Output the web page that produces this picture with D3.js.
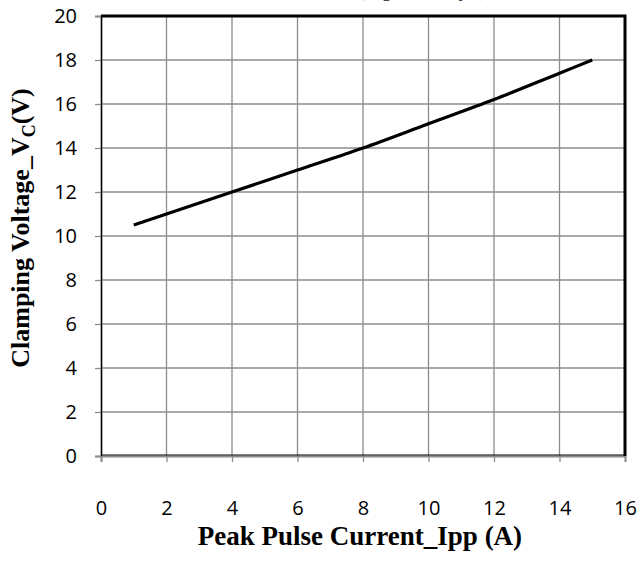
<!DOCTYPE html>
<html><head><meta charset="utf-8">
<script src="https://cdn.jsdelivr.net/npm/d3@7"></script>
<style>body{margin:0;background:#fff}svg{display:block}</style>
</head><body>
<svg id="c" width="639" height="561"></svg>
<script>
const currents = [1, 2, 4, 6, 8, 10, 12, 14, 15];
const voltages = [10.5, 11.0, 12.0, 13.0, 14.0, 15.1, 16.2, 17.4, 18.0];
const xTicks = [0, 2, 4, 6, 8, 10, 12, 14, 16];
const yTicks = [0, 2, 4, 6, 8, 10, 12, 14, 16, 18, 20];
const xTitle = "Peak Pulse Current_Ipp (A)";

const svg = d3.select("#c");
const L = 101, R = 625, T = 16, B = 456;
const x = d3.scaleLinear().domain([0, 16]).range([L, R]);
const y = d3.scaleLinear().domain([0, 20]).range([B, T]);

// grid
svg.append("g").selectAll("line").data(xTicks.slice(1, -1)).join("line")
  .attr("x1", d => x(d)).attr("x2", d => x(d)).attr("y1", T).attr("y2", B)
  .attr("stroke", "#8c8c8c").attr("stroke-width", 1.3);
svg.append("g").selectAll("line").data(yTicks.slice(1, -1)).join("line")
  .attr("x1", L).attr("x2", R).attr("y1", d => y(d)).attr("y2", d => y(d))
  .attr("stroke", "#8c8c8c").attr("stroke-width", 1.3);

// axes
const xAxis = svg.append("g").attr("transform", `translate(0,${B})`)
  .call(d3.axisBottom(x).tickValues(xTicks).tickSize(6).tickPadding(39).tickFormat(d3.format("d")));
const yAxis = svg.append("g").attr("transform", `translate(${L},0)`)
  .call(d3.axisLeft(y).tickValues(yTicks).tickSize(6).tickPadding(18).tickFormat(d3.format("d")));
[xAxis, yAxis].forEach(g => {
  g.select(".domain").attr("stroke", "#8c8c8c").attr("stroke-width", 2);
  g.selectAll(".tick line").attr("stroke", "#8c8c8c").attr("stroke-width", 1.3);
  g.selectAll(".tick text").attr("fill", "#000").style("font-family", "'Open Sans', sans-serif").style("font-size", "20px");
});

// frame
svg.append("path").attr("d", `M${L},${T}H${R}V${B}`).attr("fill", "none")
  .attr("stroke", "#000").attr("stroke-width", 3);
svg.append("line").attr("x1", L + 0.5).attr("x2", L + 0.5).attr("y1", T).attr("y2", B)
  .attr("stroke", "#000").attr("stroke-width", 1.2);
svg.append("line").attr("x1", L).attr("x2", R).attr("y1", B - 1).attr("y2", B - 1)
  .attr("stroke", "#000").attr("stroke-width", 1.2);

// line
svg.append("path").datum(currents.map((c, i) => [c, voltages[i]]))
  .attr("fill", "none").attr("stroke", "#000").attr("stroke-width", 3.2)
  .attr("d", d3.line().x(d => x(d[0])).y(d => y(d[1])).curve(d3.curveMonotoneX));

// titles
svg.append("text").attr("x", 360).attr("y", 545).attr("text-anchor", "middle")
  .style("font-family", "'Liberation Serif', serif").style("font-weight", "bold").style("font-size", "27px")
  .text(xTitle);
const yt = svg.append("text").attr("transform", "translate(29,228) rotate(-90)").attr("text-anchor", "middle")
  .style("font-family", "'Liberation Serif', serif").style("font-weight", "bold").style("font-size", "26px");
yt.append("tspan").text("Clamping Voltage_V");
yt.append("tspan").attr("dy", 6).style("font-size", "18px").text("C");
yt.append("tspan").attr("dy", -6).text("(V)");
// top cut-off title
svg.append("text").attr("x", 422).attr("y", -4).attr("text-anchor", "middle")
  .style("font-family", "'Liberation Serif', serif").style("font-weight", "bold").style("font-size", "22px")
  .attr("fill", "#444").text("(t_p = 8/20μs)");
</script>
</body></html>
